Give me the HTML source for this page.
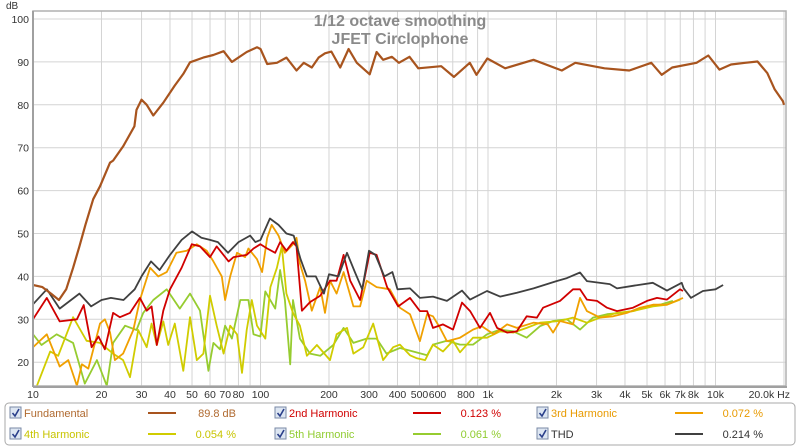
<!DOCTYPE html>
<html><head><meta charset="utf-8">
<style>
body{margin:0;background:#fff;font-family:"Liberation Sans",sans-serif;}
svg{display:block}
</style></head>
<body>
<svg id="chart" width="800" height="447" viewBox="0 0 800 447" xmlns="http://www.w3.org/2000/svg">
<rect x="0" y="0" width="800" height="447" fill="#ffffff"/>
<g id="grid"></g>
<g id="series"></g>
<rect x="33" y="11" width="753" height="375" fill="none" stroke="#b0b0b0" stroke-width="1.5"/>
<line x1="33" y1="11" x2="33" y2="387" stroke="#a0a0a0" stroke-width="2"/>
<line x1="33" y1="387" x2="787" y2="387" stroke="#a0a0a0" stroke-width="2"/>
<g id="ylabels"></g>
<g id="xlabels"></g>
<text x="6" y="9" font-size="10" fill="#333">dB</text>
<text x="400" y="26" font-size="16" font-weight="bold" fill="#8a8a8a" text-anchor="middle">1/12 octave smoothing</text>
<text x="400" y="44" font-size="16" font-weight="bold" fill="#8a8a8a" text-anchor="middle">JFET Circlophone</text>
<rect x="5" y="403" width="790" height="42" rx="4" fill="#fff" stroke="#a8a8a8"/>
<g id="legend"></g>
</svg>
<script>
const yTicks=[20,30,40,50,60,70,80,90,100];
const gridFreqs=[10,20,30,40,50,60,70,80,90,100,200,300,400,500,600,700,800,900,1000,2000,3000,4000,5000,6000,7000,8000,9000,10000,20000];
const xTickFreqs=[10,20,30,40,50,60,70,80,100,200,300,400,500,600,800,1000,2000,3000,4000,5000,6000,7000,8000,10000,20000];
const xTickLabels=["10","20","30","40","50","60","70","80","100","200","300","400","500","600","800","1k","2k","3k","4k","5k","6k","7k","8k","10k","20.0k Hz"];

const fundFreq=[10,11,12,13,14,15,16,17,18.4,19.7,21.8,22.5,24.9,27.9,28.5,30,31.6,33.8,37.4,42,45.8,49,56,62,68.8,74.9,87,96.5,100,107,118,130,144,155,168,180,192,205,224,244,265,302,324,346,378,406,452,494,623,708,832,890,993,1190,1585,2110,2420,3250,4180,5220,5800,6450,8250,9300,10400,11700,13500,15300,16900,18200,19800,20000];
const fundDb=[38,37.5,36,34.5,37,42,47,52,58,61,66.5,67,70.3,75,78.8,81.2,80,77.5,80.5,84.5,87.2,89.9,91,91.6,92.5,90,92.3,93.4,93,89.5,89.8,91,88,89.8,88.7,91,92,92.4,88.7,93,89.8,87.1,92.3,90.5,91.2,89.8,91.2,88.5,89,86.5,89.8,87,90.8,88.5,90.5,88,89.8,88.5,88,89.8,87,88.7,89.8,91.5,88.2,89.4,89.8,90.1,87.4,83.6,80.8,80];

const h2Freq=[10,11.5,13.1,15.6,16.7,18.1,19.4,20.7,22.5,24.1,26.7,29.5,31.6,33.2,35,37.4,40,45,49.9,54.2,60,64.2,72.4,76.2,87,93.2,99.9,107,116,122,130,139,144,152,165,183,202,216,232,248,274,302,324,360,403,454,502,540,573,634,702,769,834,922,1020,1096,1213,1340,1480,1640,1746,2072,2365,2537,2722,3013,3335,3690,4340,5000,5530,6120,6980,7200];
const h2Db=[30,35,29.5,30,33.3,23.5,26,23,31.5,30.5,31.5,35,32,33,24,32,37,42,47.5,47,44.5,47,43.5,44.5,45,46.5,47.5,46.5,45.5,48,46,48,47,32,34,35.5,39,39,45,39,34.5,45.5,45,37.5,33,35,31.9,31.9,28,28.8,27.6,33.9,31.9,28,31.5,28,26.9,27.2,30.7,30.4,32.7,34.3,37,37,34.6,34.3,32.7,31.9,32.7,34.3,35,34.6,37,36.6];

const h3Freq=[10,11.5,13.1,14.3,15.6,16.4,17.5,19.7,20.7,21.8,22.9,24.9,27.6,29.5,32.7,35.5,38.7,42.7,47.4,52.5,58,62.1,67.6,69.9,73.6,78.8,85.6,88.5,96.5,101.6,107,112,120,128,139,144,149,157,168,183,192,202,216,232,256,274,293,324,370,410,454,502,540,573,615,660,753,859,940,1060,1213,1340,1585,1830,1932,2072,2365,2537,2722,3105,3550,4080,4660,5310,6120,7200];
const h3Db=[23.5,26.5,19,20.5,14.5,19.5,18.5,29,30,27,20.5,22,27.5,34.5,42,40,41,45.5,46,47.5,46,43.5,40,34.5,40,45.5,44.5,46.5,44,41,49,52,49.5,45.5,47.5,49,43,39,32,37.5,31.5,39,36,41,33,33,39,37.5,37,32.7,31.2,24.9,31.2,30.7,28,24.9,25.7,27.6,28.4,26.5,28.8,28,29.2,28.8,26.9,29.6,28.8,35,31.9,30.4,30.7,31.5,32.7,33.4,33.4,35];

const h4Freq=[10.4,11.9,12.9,15,17.2,19.7,22.5,24.9,26.7,29,31.6,33.2,35,37.4,39.3,42,45.8,49,52.5,56.1,60,64.2,68.8,73.6,78.8,82.9,87,91.6,96.5,105,110.5,118,124,130,139,149,160,177,202,216,240,256,283,313,346,383,410,454,487,529,573,634,702,753,859,990,1130,1290,1480,1693,2072,2365,2722,3105,3690,4340,5310,6120,6980];
const h4Db=[14.5,22.5,21.5,30.5,25,24.5,22,20.5,16.5,27.5,23.5,29,24,29.5,24,29,18,30.5,20.5,22,35.5,28.5,22,28.5,26.5,17.5,27.5,34.5,28.5,25.5,37.5,42,47,36,31.5,28.5,21.5,24,20.5,26.5,28,22,23.5,29,20.5,23.5,24.1,21.6,20.9,20.5,24.1,22.5,25,22.3,25.7,25.7,27.2,26.9,28,29.2,29.6,30.4,29.2,30.4,31.5,31.9,33,33.4,34.6];

const h5Freq=[10,10.9,12.7,15,16.9,19.1,21.1,22.5,25.4,28.5,30.5,33.8,38.7,44.2,49,54.2,59,62.1,66.4,69.9,74.9,81.5,88.5,93.2,99.9,105,116,122,128,135,139,149,165,183,209,232,256,293,324,358,410,469,540,573,660,753,859,990,1130,1290,1480,1693,1932,2222,2537,2890,3335,3800,4340,5000,5700,6500];
const h5Db=[26.5,24,26.5,24.5,15,20.5,14.5,24.5,28.5,27.5,31.5,34.5,37,32.5,36,32,18,24.5,23,28.5,25.5,34.5,34.5,26.5,26,36.5,32.5,41.5,34.5,19.5,34.5,25.5,22,21.5,24,28,24.5,25.5,25.5,22,23.3,22.5,21.6,24.1,25,24.1,24.1,26.5,27.6,27.2,25.7,28.4,29.6,30,27.6,30.4,31.2,31.5,31.9,33,33.4,34.3];

const thdFreq=[10,11.5,13.1,16,18,20,22,25,28,30,33,36,40,45,50,55,60,65,72,80,90,95,100,110,120,130,140,150,160,175,190,200,220,240,260,280,300,320,350,380,400,454,502,573,660,769,834,990,1130,1340,1585,2000,2222,2537,2722,3430,3690,4340,5300,6120,7100,7250,7800,8800,10000,10800];
const thdDb=[33.5,37,32.5,36,33,34.5,35,34.5,37,40,43.5,41.5,45,48.5,50.5,49,48.5,48,45.5,48,49.5,48,48.5,53.5,52,50,49.5,44,40,40,36,40.5,40,45.5,41,37,46,45,40,41,37,37.2,35,35.3,34.3,36.7,34.6,36.6,35.3,36.2,37.2,38.9,39.6,40.9,38.9,38.2,37.2,37.8,38.5,36.7,38.5,37.2,35,36.6,37,38];

const legendNames=["Fundamental","2nd Harmonic","3rd Harmonic","4th Harmonic","5th Harmonic","THD"];
const legendValues=["89.8 dB","0.123 %","0.072 %","0.054 %","0.061 %","0.214 %"];

const NS="http://www.w3.org/2000/svg";
const L=33,R=786,T=11,B=386;
function xS(f){return L+227.5*Math.log10(f/10);}
function yS(d){return 19+(100-d)*4.29;}
function mk(tag,attrs,parent){const e=document.createElementNS(NS,tag);for(const k in attrs)e.setAttribute(k,attrs[k]);parent.appendChild(e);return e;}

const grid=document.getElementById('grid');
yTicks.forEach(v=>{const ln=mk('line',{x1:L,x2:R,y1:yS(v),y2:yS(v),stroke:'#d4d4d4','stroke-width':1},grid);

});
gridFreqs.forEach(f=>{const ln=mk('line',{x1:xS(f),x2:xS(f),y1:T,y2:B,stroke:'#d4d4d4','stroke-width':1},grid);

});

const yl=document.getElementById('ylabels');
yTicks.forEach(v=>{const t=mk('text',{x:29,y:yS(v)+4,'font-size':10.5,fill:'#333','text-anchor':'end'},yl);t.textContent=v;

});
const xl=document.getElementById('xlabels');
xTickFreqs.forEach((f,i)=>{const last=i===xTickFreqs.length-1;const t=mk('text',{x:last?790:xS(f),y:398,'font-size':10.5,fill:'#333','text-anchor':last?'end':'middle'},xl);t.textContent=xTickLabels[i];

});

const colors=["#a8541e","#d00000","#f0a000","#d0cc00","#96cc30","#404040"];
const seriesF=[fundFreq,h2Freq,h3Freq,h4Freq,h5Freq,thdFreq];
const seriesD=[fundDb,h2Db,h3Db,h4Db,h5Db,thdDb];
const sNames=["fundamental-line","h2-line","h3-line","h4-line","h5-line","thd-line"];
const sg=document.getElementById('series');
const clip=mk('clipPath',{id:'pc'},mk('defs',{},sg));mk('rect',{x:L,y:T,width:R-L,height:B-T},clip);
const order=[4,3,2,1,5,0];
order.forEach(i=>{const pts=seriesF[i].map((f,j)=>xS(f).toFixed(1)+','+yS(seriesD[i][j]).toFixed(1)).join(' ');
const p=mk('polyline',{points:pts,fill:'none',stroke:colors[i],'stroke-width':i===0?2.2:1.8,'stroke-linejoin':'round','clip-path':'url(#pc)'},sg);

});

const lg=document.getElementById('legend');
const colX=[10,275,537],rowY=[413,434];
const txtCol=["#b06a30","#d00000","#e89a00","#c8c400","#90cc30","#333333"];
legendNames.forEach((n,i)=>{const cx=colX[i%3],cy=rowY[Math.floor(i/3)];
const cb=mk('rect',{x:cx,y:cy-6,width:11,height:11,fill:'#dde6f2',stroke:'#7a8aa6','stroke-width':1},lg);


const ck=mk('path',{d:`M${cx+2.5} ${cy} L${cx+5} ${cy+3} L${cx+9} ${cy-4}`,fill:'none',stroke:'#2a3f8a','stroke-width':1.6},lg);


const t=mk('text',{x:cx+14,y:cy+4,'font-size':11,fill:txtCol[i]},lg);t.textContent=n;


const sw=mk('line',{x1:cx+138,x2:cx+166,y1:cy,y2:cy,stroke:colors[i],'stroke-width':2},lg);


const v=mk('text',{x:cx+226,y:cy+4,'font-size':11,fill:txtCol[i],'text-anchor':'end'},lg);v.textContent=legendValues[i];

});
</script>
</body></html>
